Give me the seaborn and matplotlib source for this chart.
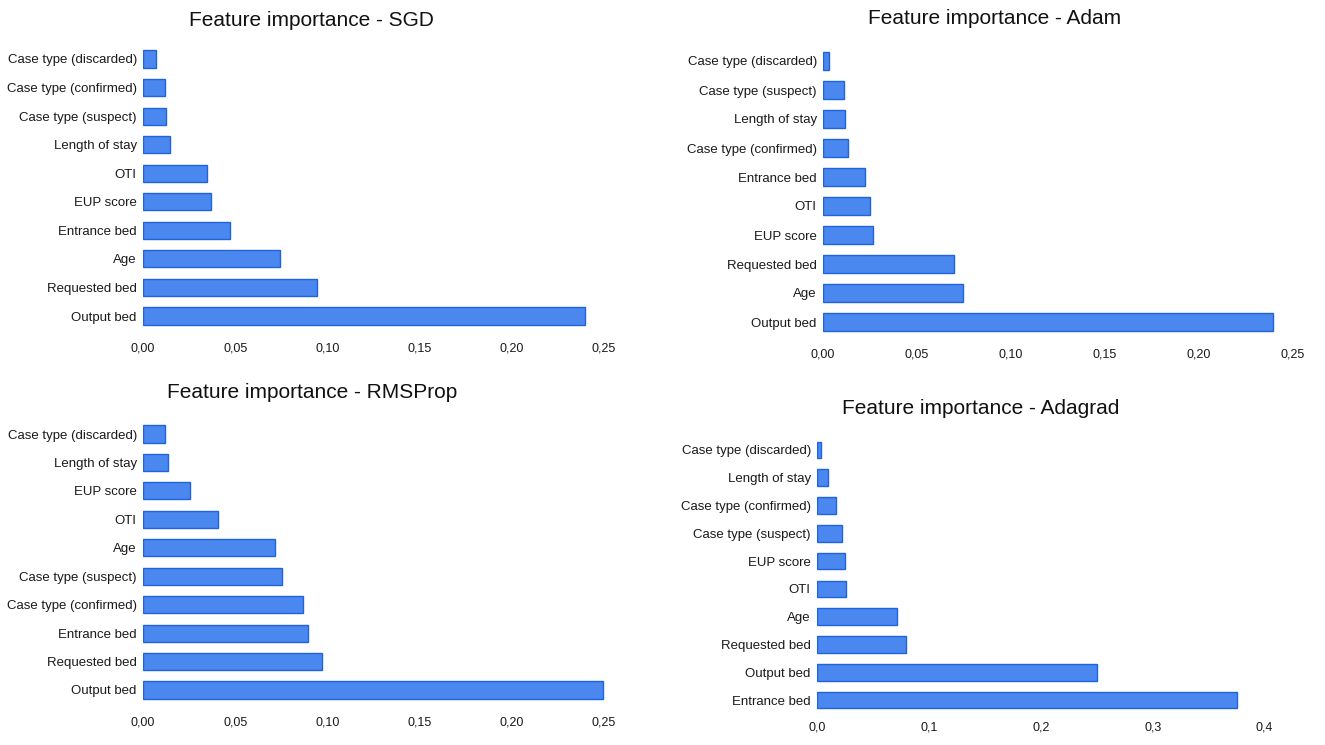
import matplotlib
matplotlib.use("Agg")
import matplotlib.pyplot as plt
import seaborn as sns
import pandas as pd

# ---------------- data ----------------
sgd_features = ["Case type (discarded)", "Case type (confirmed)", "Case type (suspect)",
                "Length of stay", "OTI", "EUP score", "Entrance bed", "Age",
                "Requested bed", "Output bed"]
sgd_values = [0.0068, 0.0119, 0.0125, 0.0148, 0.0346, 0.0367, 0.0474, 0.0745, 0.0945, 0.2398]

adam_features = ["Case type (discarded)", "Case type (suspect)", "Length of stay",
                 "Case type (confirmed)", "Entrance bed", "OTI", "EUP score",
                 "Requested bed", "Age", "Output bed"]
adam_values = [0.0034, 0.0113, 0.0119, 0.0135, 0.0225, 0.0248, 0.0266, 0.0698, 0.0743, 0.2396]

rms_features = ["Case type (discarded)", "Length of stay", "EUP score", "OTI", "Age",
                "Case type (suspect)", "Case type (confirmed)", "Entrance bed",
                "Requested bed", "Output bed"]
rms_values = [0.0119, 0.0134, 0.0255, 0.0406, 0.0716, 0.0754, 0.0868, 0.0896, 0.0973, 0.2495]

adagrad_features = ["Case type (discarded)", "Length of stay", "Case type (confirmed)",
                    "Case type (suspect)", "EUP score", "OTI", "Age", "Requested bed",
                    "Output bed", "Entrance bed"]
adagrad_values = [0.0038, 0.0102, 0.0174, 0.0219, 0.0246, 0.0257, 0.0715, 0.0795, 0.2498, 0.3754]

ticks_025 = [0.00, 0.05, 0.10, 0.15, 0.20, 0.25]
ticklabels_025 = ["0,00", "0,05", "0,10", "0,15", "0,20", "0,25"]
ticks_04 = [0.0, 0.1, 0.2, 0.3, 0.4]
ticklabels_04 = ["0,0", "0,1", "0,2", "0,3", "0,4"]

titles = ["Feature importance - SGD", "Feature importance - Adam",
          "Feature importance - RMSProp", "Feature importance - Adagrad"]

# ---------------- style ----------------
sns.set_style("white")
plt.rcParams["font.family"] = ["Liberation Sans", "DejaVu Sans"]

W, H = 1325, 745
fig = plt.figure(figsize=(W / 100, H / 100), dpi=100)

FILL = "#4a88f0"
EDGE = "#2064dc"

def px_axes(left, right, top, bottom):
    return fig.add_axes([left / W, 1 - bottom / H, (right - left) / W, (bottom - top) / H])

panels = [
    # features, values, ticks, labels, xlim, (left, right, top, bottom), title (x, y), xpad
    (sgd_features, sgd_values, ticks_025, ticklabels_025, 0.27, (143, 641, 44.7, 330.3), (311, 20), 8.5),
    (adam_features, adam_values, ticks_025, ticklabels_025, 0.255, (823, 1302, 46.5, 336.5), (995, 18), 8.5),
    (rms_features, rms_values, ticks_025, ticklabels_025, 0.27, (143, 641, 419.8, 704.2), (312, 392), 8.5),
    (adagrad_features, adagrad_values, ticks_04, ticklabels_04, 0.42, (817, 1287, 436, 714), (981, 409), 5.5),
]

for (feats, vals, tks, tlabs, xmax, box, tpos, xpad), title in zip(panels, titles):
    ax = px_axes(*box)
    df = pd.DataFrame({"feature": feats, "value": vals})
    sns.barplot(data=df, x="value", y="feature", orient="h", color=FILL,
                saturation=1, width=0.6, edgecolor=EDGE, linewidth=1.0, ax=ax)
    ax.set_xlim(0, xmax)
    ax.set_xticks(tks)
    ax.set_xticklabels(tlabs)
    ax.set_xlabel("")
    ax.set_ylabel("")
    for s in ax.spines.values():
        s.set_visible(False)
    ax.tick_params(axis="y", length=0, pad=4.5, labelsize=9.5, labelcolor="#1a1a1a")
    ax.tick_params(axis="x", length=0, pad=xpad, labelsize=9, labelcolor="#1a1a1a")
    ax.grid(False)
    fig.text(tpos[0] / W, 1 - tpos[1] / H, title, ha="center", va="center",
             fontsize=15, color="#111111")

fig.savefig("out.png", dpi=100, facecolor="white")
